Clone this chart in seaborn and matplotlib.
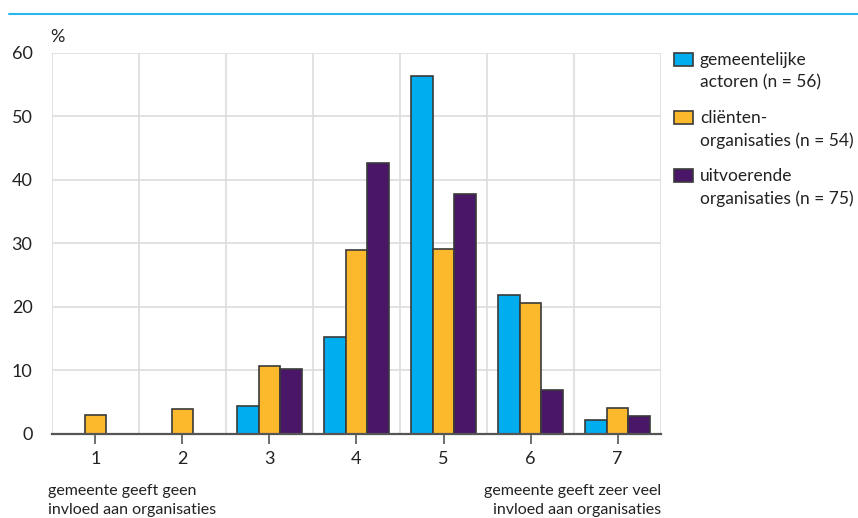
import matplotlib
matplotlib.use("Agg")
import matplotlib.pyplot as plt
import matplotlib.patches as mpatches
import seaborn as sns
import numpy as np
import pandas as pd

# scale 1 (no influence) .. 7 (very much influence)
categories = ["1", "2", "3", "4", "5", "6", "7"]
gemeentelijk = [0.0, 0.0, 4.4, 15.3, 56.4, 21.9, 2.2]
clienten = [3.0, 3.9, 10.7, 29.0, 29.1, 20.6, 4.1]
uitvoerend = [0.0, 0.0, 10.2, 42.7, 37.8, 6.9, 2.8]

series = ["gemeentelijke\nactoren (n = 56)",
          "cliënten-\norganisaties (n = 54)",
          "uitvoerende\norganisaties (n = 75)"]
colors = ["#00AEEF", "#FDB92C", "#4A1768"]

df = pd.DataFrame({
    "score": categories * 3,
    "pct": gemeentelijk + clienten + uitvoerend,
    "groep": [series[0]] * 7 + [series[1]] * 7 + [series[2]] * 7,
})

sns.set_theme(style="white")
plt.rcParams["font.family"] = ["Lato", "DejaVu Sans"]

W, H = 858, 518
fig = plt.figure(figsize=(W / 100, H / 100), dpi=100)
ax = fig.add_axes([0.0606, 0.1622, 0.7098, 0.7355])

sns.barplot(data=df, x="score", y="pct", hue="groep", palette=colors,
            saturation=1, width=0.74, edgecolor="#3a3a3a", linewidth=1.2,
            ax=ax, legend=False, zorder=3)

ax.set_xlim(-0.5, 6.5)
ax.set_ylim(0, 60)
ax.set_yticks(range(0, 61, 10))
ax.set_xlabel("")
ax.set_ylabel("")

# grid lines
for yv in range(10, 61, 10):
    ax.axhline(yv, color="#dddddd", lw=1.2, zorder=0)
for xv in np.arange(-0.5, 7, 1):
    ax.axvline(xv, color="#dddddd", lw=1.2, zorder=0)

for s in ["top", "right", "left"]:
    ax.spines[s].set_visible(False)
ax.spines["bottom"].set_color("#555555")
ax.spines["bottom"].set_linewidth(1.6)
ax.spines["bottom"].set_zorder(4)

ax.tick_params(axis="x", bottom=True, length=7, width=1.2, color="#555555",
               labelsize=13, labelcolor="#222222", pad=5)
ax.tick_params(axis="y", left=False, labelsize=13, labelcolor="#222222", pad=8)

fig.text(0.059, 0.918, "%", fontsize=13, color="#222222")

fig.text(0.056, 0.066, "gemeente geeft geen\ninvloed aan organisaties",
         fontsize=11.5, color="#222222", ha="left", va="top", linespacing=1.5)
fig.text(0.770, 0.066, "gemeente geeft zeer veel\ninvloed aan organisaties",
         fontsize=11.5, color="#222222", ha="right", va="top", linespacing=1.5,
         multialignment="right")

# top rule
fig.add_artist(plt.Line2D([0.01, 1.0], [0.973, 0.973], color="#29B6E8", lw=1.5))

# legend: swatch aligned with the first line of each label
for i, (c, lab) in enumerate(zip(colors, series)):
    top = 53 + 58 * i
    fig.add_artist(mpatches.Rectangle((674 / W, 1 - (top + 13) / H), 19 / W, 13 / H,
                                      transform=fig.transFigure, facecolor=c,
                                      edgecolor="#3a3a3a", linewidth=1.2))
    fig.text(700 / W, 1 - (top - 1) / H, lab, fontsize=12.5, color="#222222",
             ha="left", va="top", linespacing=1.45)

fig.savefig("out.png", dpi=100)
